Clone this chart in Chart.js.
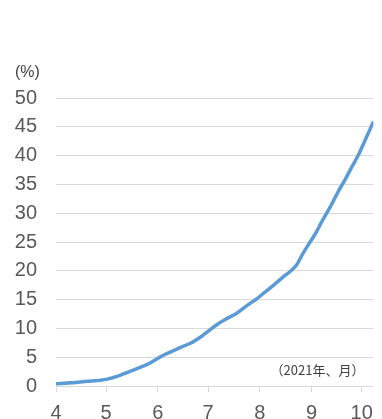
<!DOCTYPE html>
<html>
<head>
  <meta charset="utf-8">
  <title>2021</title>
  <script src="https://cdn.jsdelivr.net/npm/chart.js"></script>
  <style>
    body { margin: 0; background: #fff; }
    #wrap { width: 382px; height: 419px; }
  </style>
</head>
<body>
  <div id="wrap"><canvas id="myChart"></canvas></div>
  <script>
    // days counted from 1 April 2021, values in %
    const days = [0, 9, 16, 23, 30, 37, 44, 50, 55, 61, 64, 73, 81, 87, 91, 96, 101, 108, 114, 120,
                  123, 129, 135, 141, 144, 147, 151, 156, 159, 164, 169, 173, 177, 181, 186, 190];
    const values = [0.4, 0.55, 0.75, 0.9, 1.15, 1.7, 2.5, 3.2, 3.8, 4.8, 5.3, 6.5, 7.5, 8.6, 9.5, 10.6, 11.5, 12.6, 13.9, 15.1,
                    15.8, 17.2, 18.7, 20.1, 21.0, 22.6, 24.5, 26.8, 28.5, 31.0, 33.8, 35.8, 38.0, 40.1, 43.3, 45.9];
    // month starts (Apr..Oct) and their labels
    const monthStarts = [0, 30, 61, 91, 122, 153, 183];
    const monthLabels = ['4', '5', '6', '7', '8', '9', '10'];
    const unitLabel = '(%)';
    const periodLabel = '（2021年、月）';

    const notes = {
      id: 'notes',
      afterDraw(chart) {
        const ctx = chart.ctx;
        const y = chart.scales.y;
        ctx.save();
        ctx.fillStyle = '#404040';
        ctx.font = '16px "Liberation Sans", Arial, sans-serif';
        ctx.textAlign = 'left';
        ctx.textBaseline = 'middle';
        ctx.fillText(unitLabel, 15, chart.chartArea.top - 25);
        ctx.font = '13px "Noto Sans CJK JP", sans-serif';
        ctx.textAlign = 'right';
        ctx.fillText(periodLabel, chart.chartArea.right - 9, y.getPixelForValue(0) - 16);
        ctx.restore();
      }
    };

    const ctx = document.getElementById('myChart').getContext('2d');
    new Chart(ctx, {
      type: 'line',
      data: {
        datasets: [{
          data: days.map((d, i) => ({ x: d, y: values[i] })),
          borderColor: '#5b9bd5',
          borderWidth: 3.5,
          pointRadius: 0,
          tension: 0.3,
          fill: false
        }]
      },
      options: {
        responsive: true,
        maintainAspectRatio: false,
        animation: false,
        layout: { padding: { top: 98, right: 4, left: 0, bottom: 0 } },
        plugins: { legend: { display: false }, tooltip: { enabled: false } },
        scales: {
          x: {
            type: 'linear',
            min: 0,
            max: days[days.length - 1],
            afterBuildTicks: axis => { axis.ticks = monthStarts.map(v => ({ value: v })); },
            afterFit: axis => { axis.height = 33; },
            ticks: {
              autoSkip: false,
              maxRotation: 0,
              padding: 9,
              color: '#595959',
              font: { size: 20, family: '"Liberation Sans", Arial, sans-serif' },
              callback: (v, i) => monthLabels[i]
            },
            grid: { drawOnChartArea: false, drawTicks: true, tickLength: 6, color: '#d9d9d9' },
            border: { display: false }
          },
          y: {
            min: 0,
            max: 50,
            afterFit: axis => { axis.width = 56; },
            ticks: {
              stepSize: 5,
              padding: 19,
              color: '#595959',
              font: { size: 20, family: '"Liberation Sans", Arial, sans-serif' }
            },
            grid: { color: '#d9d9d9', drawTicks: false },
            border: { display: false }
          }
        }
      },
      plugins: [notes]
    });
  </script>
</body>
</html>
